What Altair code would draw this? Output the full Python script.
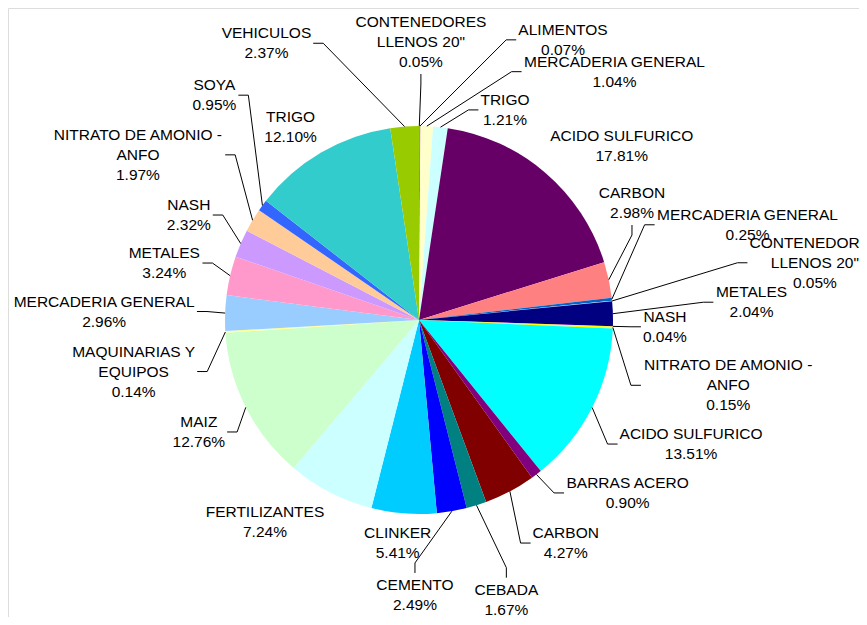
import altair as alt
import pandas as pd

# ---- data ----
categories = ['CONTENEDORES\nLLENOS 20"', 'ALIMENTOS', 'MERCADERIA GENERAL', 'TRIGO',
              'ACIDO SULFURICO', 'CARBON', 'MERCADERIA GENERAL', 'CONTENEDORES\nLLENOS 20"',
              'METALES', 'NASH', 'NITRATO DE AMONIO -\nANFO', 'ACIDO SULFURICO',
              'BARRAS ACERO', 'CARBON', 'CEBADA', 'CEMENTO', 'CLINKER', 'FERTILIZANTES',
              'MAIZ', 'MAQUINARIAS Y\nEQUIPOS', 'MERCADERIA GENERAL', 'METALES', 'NASH',
              'NITRATO DE AMONIO -\nANFO', 'SOYA', 'TRIGO', 'VEHICULOS']
shares = [0.05, 0.07, 1.04, 1.21, 17.81, 2.98, 0.25, 0.05, 2.04, 0.04, 0.15, 13.51,
          0.90, 4.27, 1.67, 2.49, 5.41, 7.24, 12.76, 0.14, 2.96, 3.24, 2.32, 1.97,
          0.95, 12.10, 2.37]

# ---- styles / layout ----
colors = ["#9999FF", "#993366", "#FFFFCC", "#CCFFFF", "#660066", "#FF8080", "#0066CC",
          "#CCCCFF", "#000080", "#FF00FF", "#FFFF00", "#00FFFF", "#800080", "#800000",
          "#008080", "#0000FF", "#00CCFF", "#CCFFFF", "#CCFFCC", "#FFFF99", "#99CCFF",
          "#FF99CC", "#CC99FF", "#FFCC99", "#3366FF", "#33CCCC", "#99CC00"]
label_turn = [0.3, 26.9, 35.9, 15.9, 8.8, -16.8, -10.0, -2.6, -1.2, -0.3, 9.7, -2.3,
              -13.1, -5.4, -0.1, 10.6, 1.0, 10.1, -0.2, -6.7, -0.5, -0.6, 1.3, -0.5,
              11.5, -3.3, -24.6]
label_radius = [278, 315, 316, 227, 267, 243, 342, 400, 333, 246, 316, 299, 271, 267,
                293, 275, 224, 254, 247, 290, 315, 261, 253, 326, 304, 232, 316]
leader = [1, 1, 1, 1, 0, 1, 1, 1, 1, 1, 1, 1, 1, 1, 1, 1, 0, 0, 1, 1, 1, 1, 1, 1, 1, 0, 1]

W, H = 851, 609
CX, CY, R = 411, 312, 194
FS, LH = 15.5, 20
FONT = "Liberation Sans"

_adv = {"A": 667, "B": 667, "C": 722, "D": 722, "E": 667, "F": 611, "G": 778, "H": 722,
        "I": 278, "J": 500, "K": 667, "L": 556, "M": 833, "N": 722, "O": 778, "P": 667,
        "Q": 778, "R": 722, "S": 667, "T": 611, "U": 722, "V": 667, "W": 944, "X": 667,
        "Y": 667, "Z": 611, " ": 278, ".": 278, "%": 889, "-": 333, '"': 355}


def text_width(s):
    return max(sum(_adv.get(c, 556) for c in line) for line in s.split("\n")) * FS / 1000.0


labels = [f"{c}\n{v:.2f}%" for c, v in zip(categories, shares)]
df = pd.DataFrame({
    "idx": list(range(len(shares))),
    "key": [f"{i:02d}" for i in range(len(shares))],
    "name": categories,
    "value": shares,
    "label": labels,
    "tw": [text_width(s) for s in labels],
    "nl": [s.count("\n") + 1 for s in labels],
    "turn": label_turn,
    "lr": label_radius,
    "leader": leader,
})

base = alt.Chart(df)

pie = base.mark_arc(outerRadius=R).encode(
    theta=alt.Theta("value:Q", stack=True),
    color=alt.Color("key:N", scale=alt.Scale(domain=list(df["key"]), range=colors), legend=None),
    order=alt.Order("idx:Q"),
    x=alt.value(CX),
    y=alt.value(CY),
)

geo = (
    base.transform_window(cum="sum(value)", sort=[alt.SortField("idx", order="ascending")],
                          frame=[None, 0])
    .transform_joinaggregate(total="sum(value)")
    .transform_calculate(mid="2*PI*(datum.cum - datum.value/2)/datum.total")
    .transform_calculate(la="datum.mid + datum.turn*PI/180")
    .transform_calculate(
        lx=f"{CX} + datum.lr*sin(datum.la)",
        ly=f"{CY} - datum.lr*cos(datum.la)",
        ex=f"{CX} + {R}*sin(datum.mid)",
        ey=f"{CY} - {R}*cos(datum.mid)",
        hw="datum.tw/2",
        hh=f"datum.nl*{LH}/2",
    )
    .transform_calculate(
        ty=f"datum.ly - (datum.nl - 1)*{LH}/2",
        side="datum.ex < datum.lx - datum.hw - 5 ? 'L' : (datum.ex > datum.lx + datum.hw + 5 ? 'R' : (datum.ey < datum.ly ? 'T' : 'B'))",
    )
    .transform_calculate(
        ax="datum.side == 'L' ? datum.lx - datum.hw - 2 : (datum.side == 'R' ? datum.lx + datum.hw + 2 : datum.lx)",
        ay="datum.side == 'T' ? datum.ly - datum.hh - 2 : (datum.side == 'B' ? datum.ly + datum.hh + 2 : datum.ly)",
    )
    .transform_calculate(
        kx="datum.side == 'L' ? datum.ax - 10 : (datum.side == 'R' ? datum.ax + 10 : datum.ax)",
        ky="datum.side == 'T' ? datum.ay - 10 : (datum.side == 'B' ? datum.ay + 10 : datum.ay)",
    )
)

lines = geo.transform_filter("datum.leader == 1")

seg1 = lines.mark_rule(color="black", strokeWidth=1).encode(
    x=alt.X("ex:Q", scale=None, axis=None),
    y=alt.Y("ey:Q", scale=None, axis=None),
    x2="kx:Q",
    y2="ky:Q",
)
seg2 = lines.mark_rule(color="black", strokeWidth=1).encode(
    x=alt.X("kx:Q", scale=None, axis=None),
    y=alt.Y("ky:Q", scale=None, axis=None),
    x2="ax:Q",
    y2="ay:Q",
)

text = geo.mark_text(
    font=FONT, fontSize=FS, lineHeight=LH, lineBreak="\n", color="black",
    align="center", baseline="middle",
).encode(
    x=alt.X("lx:Q", scale=None, axis=None),
    y=alt.Y("ty:Q", scale=None, axis=None),
    text="label:N",
)

chart = alt.layer(pie, seg1, seg2, text).properties(
    width=W, height=H, autosize=alt.AutoSizeParams(type="none"), padding=0,
).configure_view(stroke=None).configure(background="white")

chart.save("out.html", embed_options={"renderer": "svg", "actions": False})
